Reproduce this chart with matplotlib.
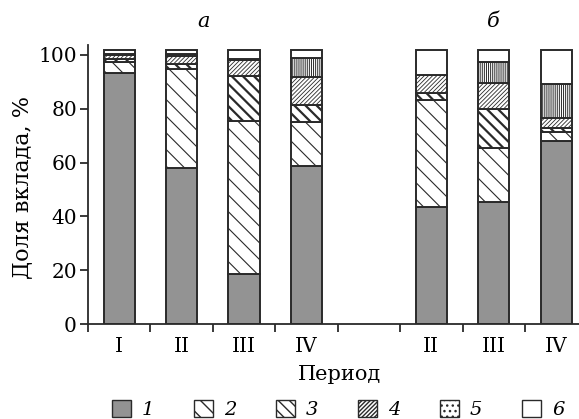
import matplotlib
matplotlib.use("Agg")
import matplotlib.pyplot as plt
from matplotlib.patches import Patch
import numpy as np

plt.rcParams['font.family'] = ['DejaVu Serif']

# data (share of contribution, %)
periods = ["I", "II", "III", "IV", "", "II", "III", "IV"]
slot_pos = [0, 1, 2, 3, 5, 6, 7]
s1 = [93.2, 57.9, 18.5, 58.8, 43.5, 45.4, 68.0]
s2 = [4.3, 36.8, 57.1, 16.4, 39.8, 19.9, 3.5]
s3 = [1.0, 2.0, 16.6, 6.1, 2.7, 14.5, 1.2]
s4 = [1.5, 2.9, 5.9, 10.4, 6.6, 9.7, 3.8]
s5 = [0.5, 0.8, 0.5, 7.1, 0.0, 8.0, 12.6]
s6 = [1.4, 1.5, 3.3, 3.1, 9.3, 4.4, 12.8]
series = [s1, s2, s3, s4, s5, s6]
series_labels = ["1", "2", "3", "4", "5", "6"]
group_titles = ["а", "б"]

W, H = 579, 419
fig = plt.figure(figsize=(W / 100, H / 100), dpi=100)
ax = fig.add_axes([88 / W, 1 - 324 / H, (W - 88) / W, (324 - 45) / H])

edge = '#2a2a2a'
faces = ['#939393', 'white', 'white', 'white', 'white', 'white']
hatches = [None, '\\\\', '\\\\\\', '////////', '||||||||', None]
hlw = [1.0, 0.8, 1.6, 0.6, 0.7, 1.0]

bottom = np.zeros(len(slot_pos))
for i, s in enumerate(series):
    vals = np.array(s)
    with plt.rc_context({'hatch.linewidth': hlw[i], 'hatch.color': edge}):
        bars = ax.bar(slot_pos, vals, width=0.5, bottom=bottom, color=faces[i],
                      edgecolor=edge, linewidth=1.4, hatch=hatches[i], zorder=2)
        for b in bars:
            try:
                b.set_hatch_linewidth(hlw[i])
            except Exception:
                pass
    bottom += vals

ax.set_xlim(-0.5, -0.5 + (W - 88) / 62.43)
ax.set_ylim(0, 103.7)

ax.spines['top'].set_visible(False)
ax.spines['right'].set_visible(False)
for sp in ['left', 'bottom']:
    ax.spines[sp].set_linewidth(1.3)
    ax.spines[sp].set_color(edge)

ax.set_yticks([0, 20, 40, 60, 80, 100])
ax.tick_params(axis='y', direction='out', length=6, width=1.3, color=edge,
               labelsize=14.5, pad=2)
ax.set_xticks(range(len(periods)))
ax.set_xticklabels(periods)
ax.tick_params(axis='x', which='major', length=0, labelsize=14.5, pad=9)
ax.set_xticks(np.arange(-0.5, 7.0, 1.0), minor=True)
ax.tick_params(axis='x', which='minor', direction='out', length=6, width=1.3, color=edge)

ax.set_ylabel("Доля вклада, %", fontsize=16)
ax.yaxis.set_label_coords(-0.112, 0.49)
ax.set_xlabel("Период", fontsize=15)
ax.xaxis.set_label_coords(0.512, -0.148)

ax.text(1.35, 109.0, group_titles[0], fontsize=15, style='italic', ha='center', va='bottom')
ax.text(6.0, 109.0, group_titles[1], fontsize=15, style='italic', ha='center', va='bottom')

leg_hatches = [None, '\\\\', '\\\\\\', '////////', '...', None]
handles = []
for i in range(6):
    with plt.rc_context({'hatch.linewidth': min(hlw[i], 1.0), 'hatch.color': edge}):
        p = Patch(facecolor=faces[i], edgecolor=edge, linewidth=1.0,
                  hatch=leg_hatches[i], label=series_labels[i])
    handles.append(p)
leg = fig.legend(handles=handles, loc='center', bbox_to_anchor=(0.584, 0.022), ncol=6,
                 frameon=False, handlelength=1.0, handleheight=0.9,
                 handletextpad=0.55, columnspacing=2.03,
                 prop={'family': 'DejaVu Serif', 'style': 'italic', 'size': 14})

fig.savefig("out.png", dpi=100)
